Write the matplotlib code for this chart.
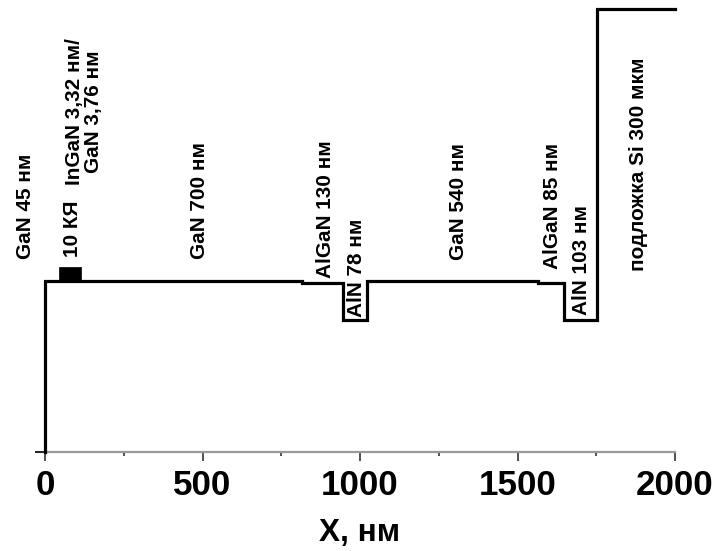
import matplotlib
matplotlib.use("Agg")
import matplotlib.pyplot as plt
from matplotlib import font_manager
from matplotlib.patches import Rectangle
from matplotlib.ticker import MultipleLocator

# Pick a narrow sans face when one is installed
def pick_family():
    for fam in ["Liberation Sans Narrow", "Arial Narrow"]:
        try:
            font_manager.findfont(font_manager.FontProperties(family=fam, weight="bold"),
                                  fallback_to_default=False)
            return fam, 1.0
        except Exception:
            pass
    return "Liberation Sans", 0.84

FAMILY, SCALE = pick_family()
plt.rcParams["font.family"] = [FAMILY, "DejaVu Sans"]

# Layer stack (nm), from the surface into the substrate
qw_count = 10
qw_ingan_nm = 3.32
qw_gan_nm = 3.76
layer_names = ["GaN", "КЯ", "GaN", "AlGaN", "AlN", "GaN", "AlGaN", "AlN", "Si"]
layer_thickness = [45, qw_count * (qw_ingan_nm + qw_gan_nm), 700, 130, 78, 540, 85, 103, None]
# Profile level of each layer (arbitrary units, baseline = 0)
layer_level = [1.0, 1.0, 1.0, 0.99, 0.77, 1.0, 0.99, 0.77, 2.59]
qw_top_level = 1.08
x_end = 2000

# Layer annotations: text, anchor x (nm), bottom y (level units)
labels = [
    ("GaN 45 нм", -62, 1.13),
    ("10 КЯ", 88, 1.14),
    ("InGaN 3,32 нм/\nGaN 3,76 нм", 123, 1.56),
    ("GaN 700 нм", 492, 1.13),
    ("AlGaN 130 нм", 890, 1.02),
    ("AlN 78 нм", 990, 0.79),
    ("GaN 540 нм", 1312, 1.12),
    ("AlGaN 85 нм", 1610, 1.07),
    ("AlN 103 нм", 1703, 0.80),
    ("подложка Si 300 мкм", 1885, 1.06),
]

# Build the step profile
bounds = [0.0]
for t in layer_thickness[:-1]:
    bounds.append(bounds[-1] + t)
xs = [0.0] + bounds + [x_end]
ys = [0.0] + layer_level + [layer_level[-1]]

fig = plt.figure(figsize=(7.19, 5.51), dpi=100)
ax = fig.add_axes([45 / 719, 99 / 551, 630 / 719, 452 / 551])

ax.plot(xs, ys, drawstyle="steps-post", color="black", lw=2.3,
        solid_joinstyle="miter", clip_on=False, zorder=3)

# Quantum-well block
qw_x0 = bounds[1]
ax.add_patch(Rectangle((qw_x0, layer_level[1]), layer_thickness[1], qw_top_level - layer_level[1],
                       facecolor="black", edgecolor="black", lw=0.5, zorder=4))

for text, x, y in labels:
    ax.text(x, y, text, rotation=90, ha="center", va="bottom", multialignment="center",
            fontsize=17.8 * SCALE, fontweight="bold", linespacing=1.0, color="black")

ax.set_xlim(0, x_end)
ax.set_ylim(0, 452 / 171)
ax.xaxis.set_major_locator(MultipleLocator(500))
ax.xaxis.set_minor_locator(MultipleLocator(250))
ax.set_yticks([0])
ax.set_yticklabels([])

for side in ["top", "right", "left"]:
    ax.spines[side].set_visible(False)
ax.spines["bottom"].set_color("#9a9a9a")
ax.spines["bottom"].set_linewidth(1.6)

ax.tick_params(axis="x", which="major", direction="out", length=6.5, width=1.2,
               color="#333333", pad=6, labelsize=30 * SCALE)
ax.tick_params(axis="x", which="minor", direction="out", length=3, width=1.2, color="#333333")
ax.tick_params(axis="y", which="major", direction="out", length=7, width=1.4, color="#222222")
for lab in ax.get_xticklabels():
    lab.set_fontweight("bold")

ax.set_xlabel("X, нм", fontsize=27 * SCALE, fontweight="bold", labelpad=11)

fig.savefig("out.png", dpi=100)
